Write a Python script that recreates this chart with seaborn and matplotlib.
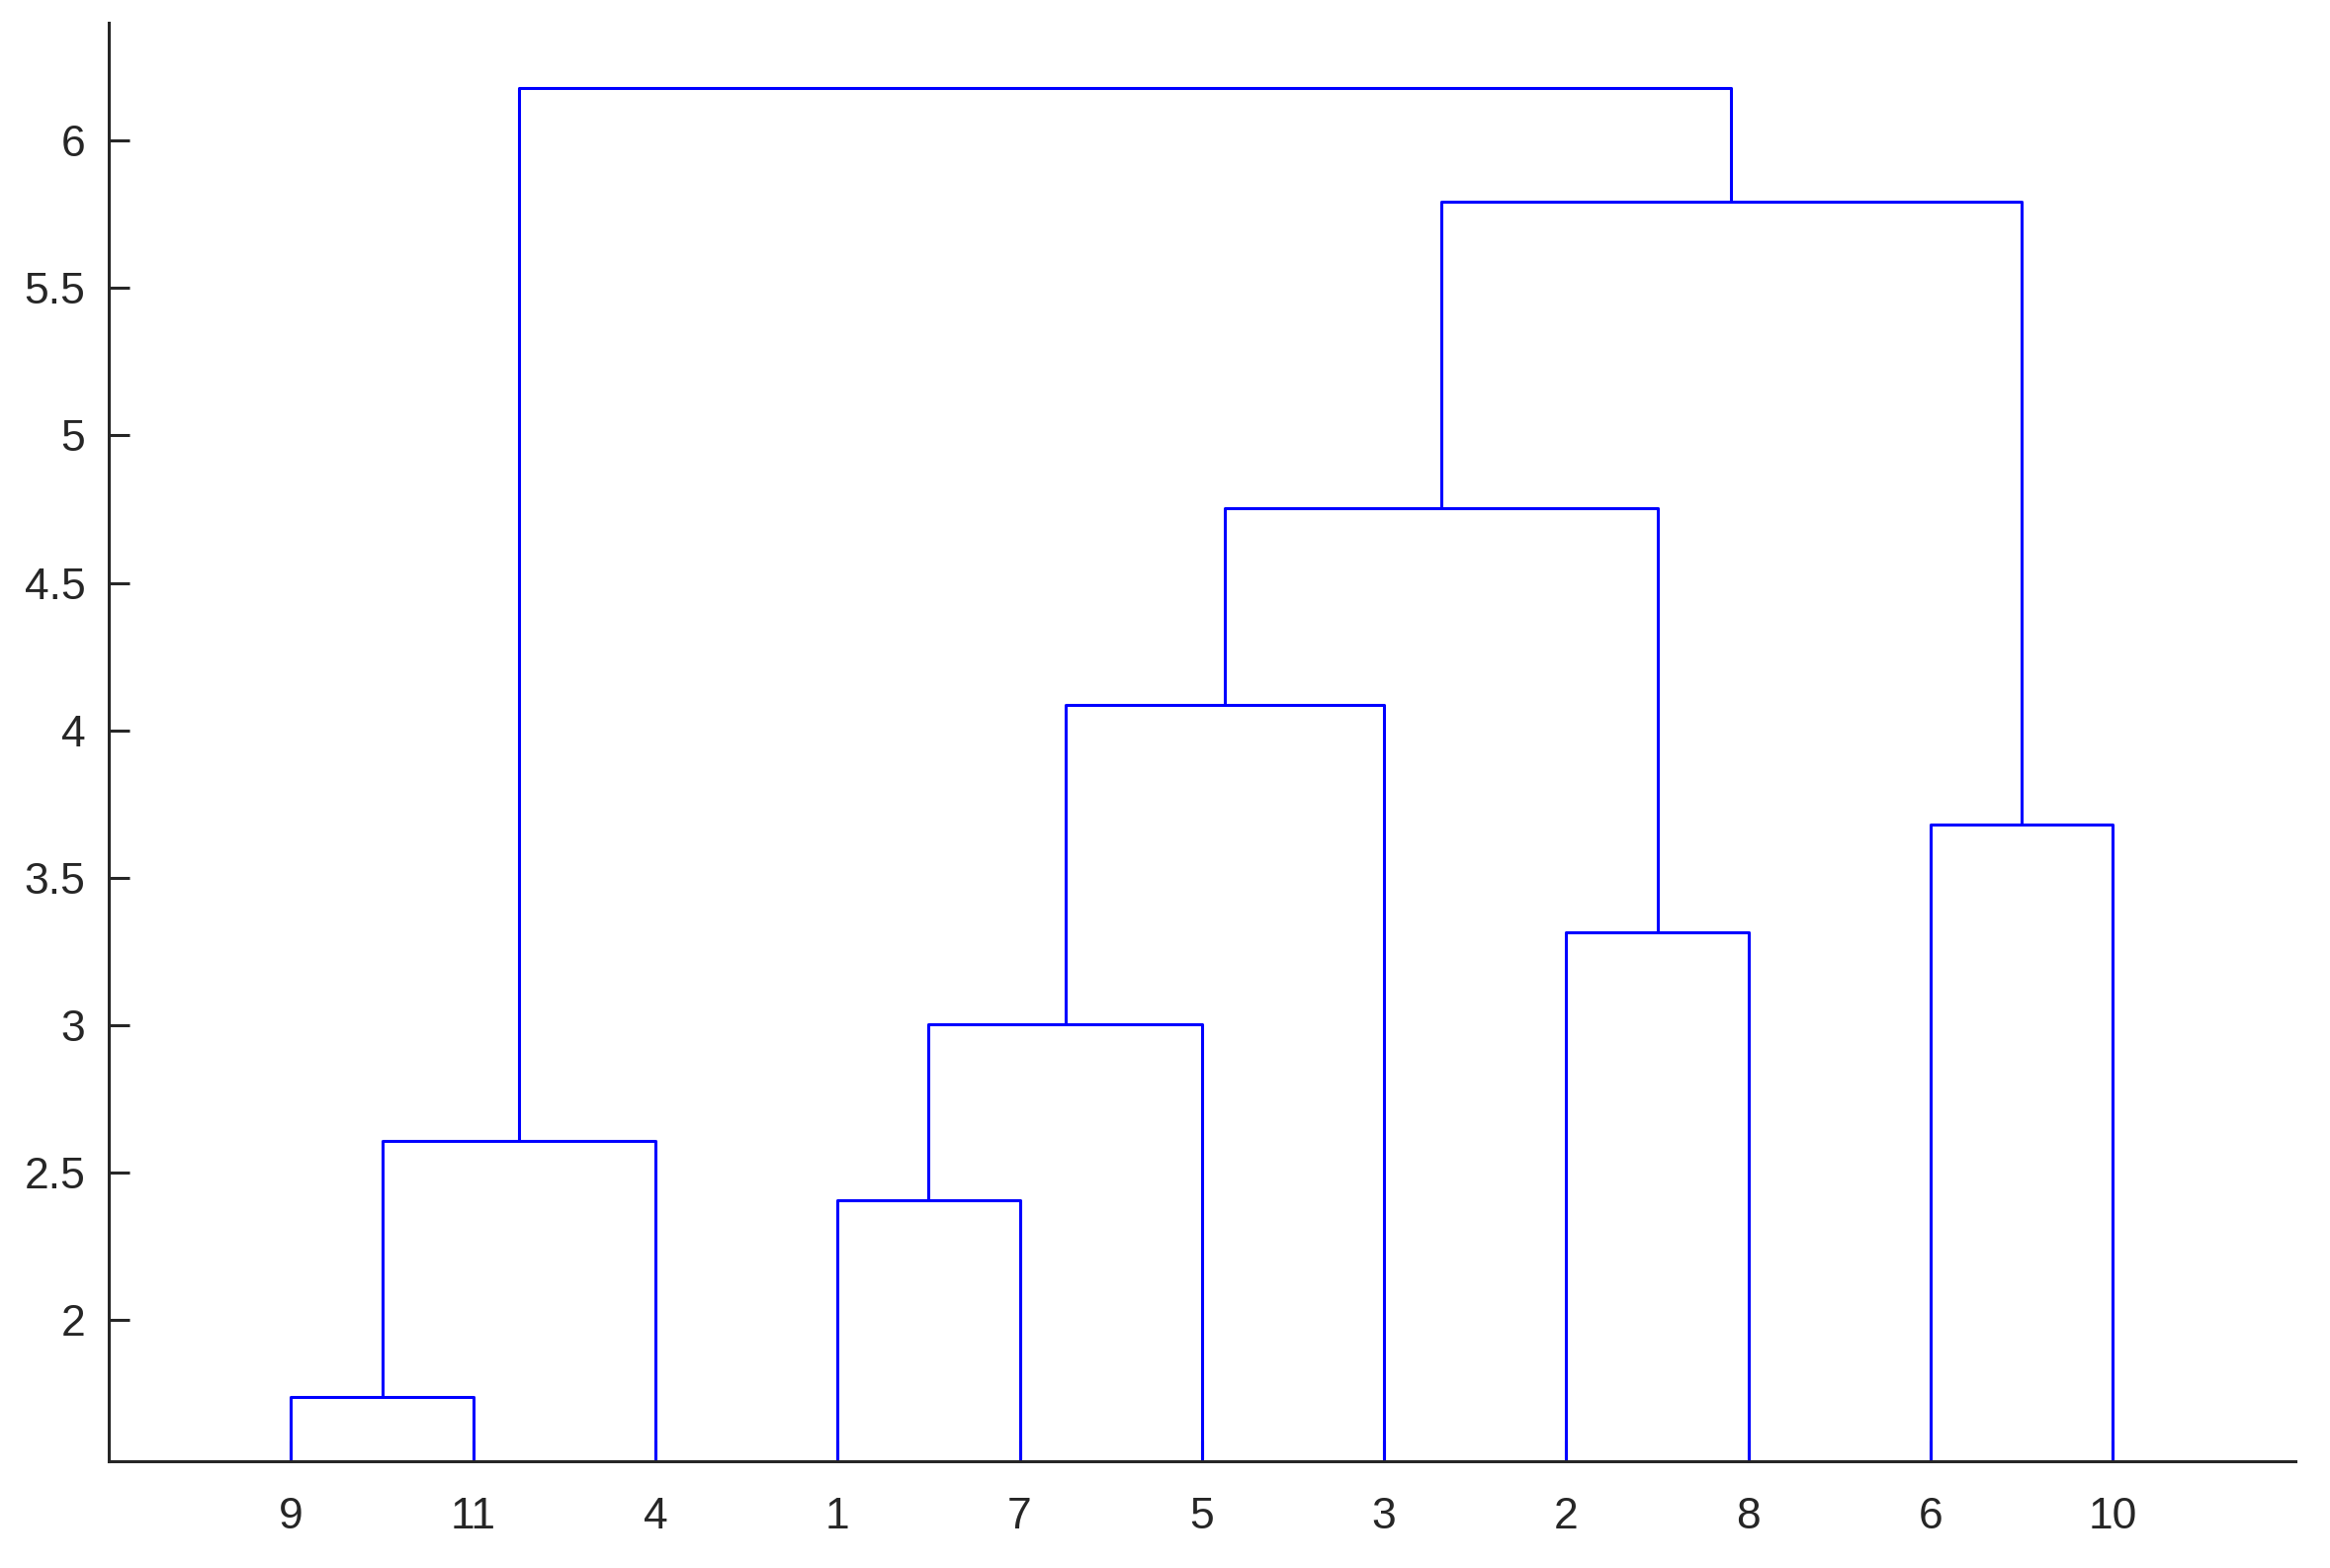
import numpy as np
import pandas as pd
import seaborn as sns
import matplotlib
matplotlib.use("Agg")
import matplotlib.pyplot as plt

# linkage: node 12, 13, ... are made in this order
merge_left = [9, 1, 12, 13, 2, 6, 15, 18, 19, 14]
merge_right = [11, 7, 4, 5, 8, 10, 3, 16, 17, 20]
merge_height = [1.737, 2.405, 2.606, 3.003, 3.316, 3.679, 4.085, 4.755, 5.792, 6.179]

leaf_order = [9, 11, 4, 1, 7, 5, 3, 2, 8, 6, 10]
y_ticks = [2, 2.5, 3, 3.5, 4, 4.5, 5, 5.5, 6]

n_leaves = len(leaf_order)

# x position and height of every node
pos = {}
hgt = {}
for i, leaf in enumerate(leaf_order):
    pos[leaf] = i + 1
    hgt[leaf] = 0.0

rows = []
for k, (a, b, h) in enumerate(zip(merge_left, merge_right, merge_height)):
    node = n_leaves + 1 + k
    xs = [pos[a], pos[a], pos[b], pos[b]]
    ys = [hgt[a], h, h, hgt[b]]
    for j in range(4):
        rows.append({"link": k, "step": j, "x": xs[j], "y": ys[j]})
    pos[node] = (pos[a] + pos[b]) / 2
    hgt[node] = h

links = pd.DataFrame(rows)

sns.set_style("ticks")
plt.rcParams["font.family"] = ["Liberation Sans", "DejaVu Sans"]

fig = plt.figure(figsize=(23.57, 15.86), dpi=100)
ax = fig.add_axes([0.0467, 0.068, 0.9383, 0.9175])

sns.lineplot(data=links, x="x", y="y", units="link", estimator=None, sort=False,
             color="#0000ff", linewidth=2.2, ax=ax, legend=False)

ax.set_xlim(0, 12)
ax.set_ylim(1.52, 6.40)
ax.set_xticks(range(1, n_leaves + 1))
ax.set_xticklabels([str(v) for v in leaf_order])
ax.set_yticks(y_ticks)
ax.set_yticklabels([f"{v:g}" for v in y_ticks])
ax.set_xlabel("")
ax.set_ylabel("")

dark = "#262626"
for side in ["top", "right"]:
    ax.spines[side].set_visible(False)
for side in ["left", "bottom"]:
    ax.spines[side].set_color(dark)
    ax.spines[side].set_linewidth(2.2)

ax.tick_params(axis="both", direction="in", length=15, width=2.2, color=dark,
               labelcolor=dark, labelsize=32)
ax.tick_params(axis="x", pad=26)
ax.tick_params(axis="y", pad=17)

fig.savefig("out.png", dpi=100, facecolor="white")
